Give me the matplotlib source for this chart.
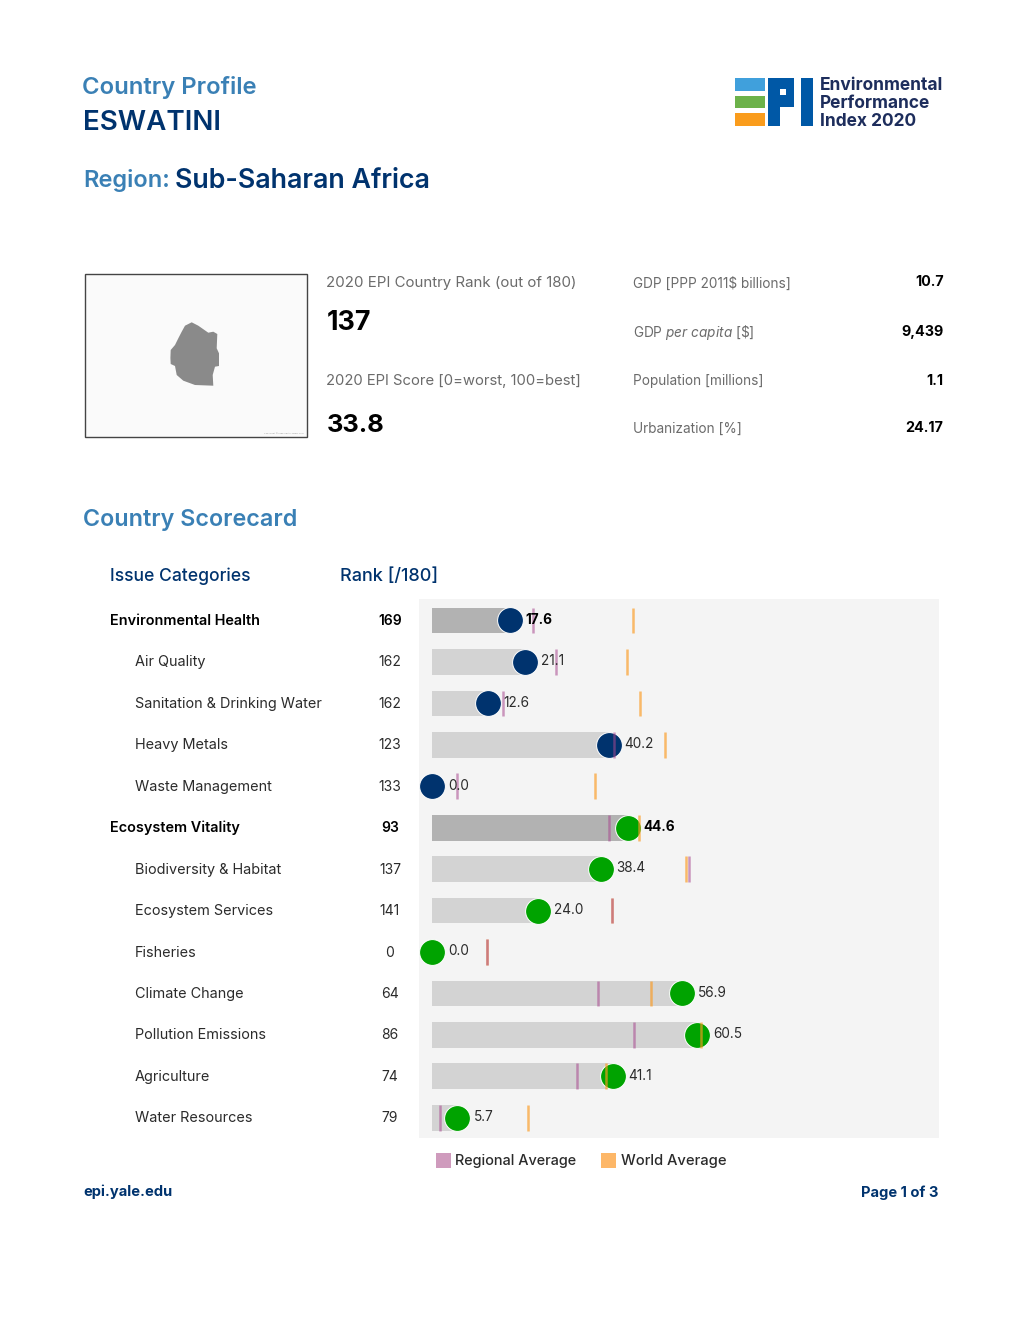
#!/usr/bin/env python3

import matplotlib
matplotlib.use("Agg")
import matplotlib.pyplot as plt
from matplotlib.patches import Rectangle, Polygon

W, H = 1020, 1320

# Scorecard data
issues = ["Environmental Health", "Air Quality", "Sanitation & Drinking Water",
          "Heavy Metals", "Waste Management", "Ecosystem Vitality",
          "Biodiversity & Habitat", "Ecosystem Services", "Fisheries",
          "Climate Change", "Pollution Emissions", "Agriculture", "Water Resources"]
ranks = [169, 162, 162, 123, 133, 93, 137, 141, 0, 64, 86, 74, 79]
scores = [17.6, 21.1, 12.6, 40.2, 0.0, 44.6, 38.4, 24.0, 0.0, 56.9, 60.5, 41.1, 5.7]
regional = [22.9, 28.2, 16.1, 41.4, 5.7, 40.3, 58.6, 41.0, 12.4, 37.8, 46.0, 32.9, 1.7]
world = [45.7, 44.3, 47.3, 53.0, 37.1, 47.1, 57.8, 41.0, 12.4, 49.9, 61.2, 39.5, 21.9]
headline = [True, False, False, False, False, True, False, False, False, False, False, False, False]
dot_colors = ["#00336e"] * 5 + ["#00a300"] * 8

facts_labels = ["GDP [PPP 2011$ billions]", "GDP $\\mathit{per\\ capita}$ [$\\$$]",
                "Population [millions]", "Urbanization [%]"]
facts_values = ["10.7", "9,439", "1.1", "24.17"]
facts_y = [282, 331, 380, 427]

# outline of the country in the map box, page pixels
map_outline = [(191.7, 322.3), (185, 325.7), (181.7, 331.7), (178.3, 338.3), (175, 345),
               (170.7, 350), (170.4, 358), (170.7, 364), (175, 366), (176.7, 375), (183.3, 380.7),
               (195, 385), (213.3, 385.7), (212.7, 375), (215, 366.7), (219, 366),
               (219, 353.3), (216.7, 348.3), (217.3, 334), (213.3, 331.7), (208.3, 332.7),
               (198.3, 325.7)]

NAVY = "#00336e"
BLUE = "#3a80b5"
GREY = "#6b6b6b"
DARK = "#2b2b2b"
plt.rcParams["font.family"] = ["Inter", "DejaVu Sans"]
plt.rcParams["mathtext.fontset"] = "custom"
plt.rcParams["mathtext.it"] = "Inter:italic"
plt.rcParams["mathtext.rm"] = "Inter"

fig = plt.figure(figsize=(W / 100, H / 100), dpi=100)


def fx(x):
    return x / W


def fy(y):
    return 1 - y / H


def put(x, y, s, size, color=DARK, weight="normal", ha="left"):
    # Inter sits a bit high with va=center
    return fig.text(fx(x), fy(y + 1.5), s, fontsize=size, color=color, fontweight=weight,
                    ha=ha, va="center")


def box(x0, y0, x1, y1, color):
    fig.add_artist(Rectangle((fx(x0), fy(y1)), (x1 - x0) / W, (y1 - y0) / H,
                             transform=fig.transFigure, facecolor=color, edgecolor="none"))


# Header
put(82, 86, "Country Profile", 17.2, BLUE, "semibold")
put(83.5, 121.5, "ESWATINI", 20, NAVY, "semibold")
put(83, 178.5, "Region:", 17, BLUE, "semibold")
put(175, 179, "Sub-Saharan Africa", 19.3, NAVY, "semibold")

# Logo
box(735, 78, 765, 91, "#40a0dc")
box(735, 96, 765, 108, "#6cb24a")
box(735, 113, 765, 126, "#fa9c1c")
box(768, 78, 794, 107, "#0058a6")
box(768, 107, 780, 126, "#0058a6")
box(780, 89, 786, 95, "white")
box(801, 78, 813, 126, "#0058a6")
for yy, s in zip([84, 101.5, 119.5], ["Environmental", "Performance", "Index 2020"]):
    put(820, yy, s, 12.5, "#1d2d5c", "bold")

# Map box
fig.add_artist(Rectangle((fx(85), fy(436.7)), 222.5 / W, 162.7 / H, transform=fig.transFigure,
                         facecolor="#fafafa", edgecolor="#444444", lw=1))
fig.add_artist(Polygon([(fx(a), fy(b)) for a, b in map_outline], closed=True,
                       transform=fig.transFigure, facecolor="#8a8a8a", edgecolor="none"))
put(283.5, 431.5, "Copyright © Free Vector Maps.com", 1.7, "#999999", ha="center")

# Rank and score
put(326, 282, "2020 EPI Country Rank (out of 180)", 10.8, GREY)
put(327, 321.5, "137", 19.3, "black", "bold")
put(326, 380, "2020 EPI Score [0=worst, 100=best]", 10.7, GREY)
put(327, 424, "33.8", 18.3, "black", "bold")

for lab, val, yy in zip(facts_labels, facts_values, facts_y):
    put(633, yy, lab, 9.8, GREY)
    put(943.5, yy - 1, val, 10.3, "black", "bold", ha="right")

# Scorecard heads
put(83, 518.5, "Country Scorecard", 16.8, BLUE, "semibold")
put(110, 575, "Issue Categories", 12.6, NAVY, "medium")
put(340, 575, "Rank [/180]", 13, NAVY, "medium")

# Chart panel
X0, X1, Y0, Y1 = 419, 939, 599, 1138
ROW_Y0 = 620.5
ax = fig.add_axes([fx(X0), fy(Y1), (X1 - X0) / W, (Y1 - Y0) / H])
PX_PER_UNIT = 4.38
ROW = 41.44
ax.set_xlim((X0 - 432.5) / PX_PER_UNIT, (X1 - 432.5) / PX_PER_UNIT)
ax.set_ylim((Y1 - ROW_Y0) / ROW, (Y0 - ROW_Y0) / ROW)
ax.axis("off")
ax.add_patch(Rectangle((0, 0), 1, 1, transform=ax.transAxes, facecolor="#f4f4f4",
                       edgecolor="none", zorder=0))

for i, issue in enumerate(issues):
    bold = headline[i]
    ax.barh(i, scores[i], height=0.62, color="#b2b2b2" if bold else "#d3d3d3", zorder=1)
    ax.scatter(scores[i], i, s=345, color=dot_colors[i], edgecolor="white", linewidth=0.7,
               zorder=2, clip_on=False)
    # world first, the regional one on top turns red where they overlap
    ax.plot([world[i]] * 2, [i - 0.31, i + 0.31], color="#fc9a1f", alpha=0.65, lw=1.8,
            solid_capstyle="butt", zorder=3)
    ax.plot([regional[i]] * 2, [i - 0.31, i + 0.31], color="#a8488f", alpha=0.55, lw=1.8,
            solid_capstyle="butt", zorder=3)
    ax.annotate("%.1f" % scores[i], (scores[i], i), xytext=(11.5, 0.5), textcoords="offset points",
                fontsize=9.8, va="center", color="black" if bold else DARK,
                fontweight="bold" if bold else "normal", zorder=4)

    yy = 619.5 + i * ROW
    put(110 if bold else 135, yy, issue, 10.4, "black" if bold else DARK,
        "semibold" if bold else "normal")
    put(390, yy, str(ranks[i]), 10, "black" if bold else DARK, "semibold" if bold else "normal",
        ha="center")

# Legend
box(436, 1153, 451, 1168, "#cf9bbd")
put(455, 1159, "Regional Average", 10.4, DARK, "medium")
box(601, 1153, 616, 1168, "#fdb768")
put(621, 1159, "World Average", 10.6, DARK, "medium")

# Footer
put(83.5, 1190, "epi.yale.edu", 10.6, NAVY, "bold")
put(938, 1191, "Page 1 of 3", 10.6, NAVY, "bold", ha="right")

fig.savefig("out.png", dpi=100)
